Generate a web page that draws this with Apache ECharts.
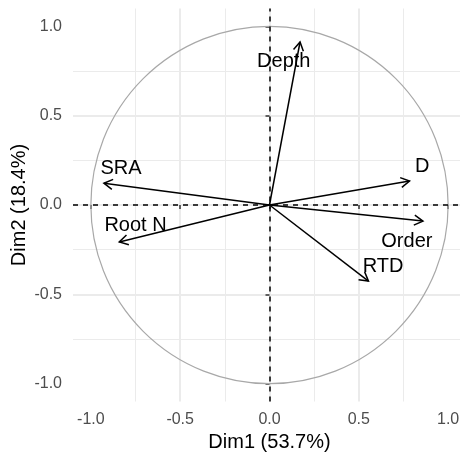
<!DOCTYPE html>
<html>
<head>
<meta charset="utf-8">
<script src="https://cdn.jsdelivr.net/npm/echarts@6/dist/echarts.min.js"></script>
<style>
  html, body { margin: 0; padding: 0; background: #fff; }
  #chart { width: 460px; height: 454px; }
</style>
</head>
<body>
<div id="chart"></div>
<script>
// variable loadings on Dim1 / Dim2 (arrow tips)
const varNames = ['Depth', 'D', 'Order', 'RTD', 'SRA', 'Root N'];
const dim1 = [0.171, 0.784, 0.859, 0.554, -0.927, -0.841];
const dim2 = [0.913, 0.134, -0.090, -0.426, 0.122, -0.207];
// where the (repelled) labels sit, in data units
const labelDim1 = [0.080, 0.855, 0.769, 0.636, -0.831, -0.750];
const labelDim2 = [0.805, 0.215, -0.206, -0.346, 0.206, -0.114];
const tickValues = [-1, -0.5, 0, 0.5, 1];
const circleRadius = 1;

const FONT = 'Liberation Sans, Arial, sans-serif';

const chart = echarts.init(document.getElementById('chart'));

const axisCommon = {
  type: 'value',
  min: -1.1,
  max: 1.1,
  axisLine: { show: false },
  axisTick: {
    show: true,
    length: 4,
    customValues: tickValues,
    lineStyle: { color: '#333333', width: 1.5 }
  },
  axisLabel: {
    customValues: tickValues,
    formatter: v => v.toFixed(1),
    color: '#4d4d4d',
    fontSize: 16,
    fontFamily: FONT
  },
  splitLine: {
    show: true,
    showMinLine: false,
    showMaxLine: false,
    lineStyle: { color: '#ebebeb', width: 2 }
  },
  minorTick: { show: false, splitNumber: 2 },
  minorSplitLine: { show: true, lineStyle: { color: '#ebebeb', width: 1 } },
  nameLocation: 'middle',
  nameTextStyle: { color: '#000', fontSize: 20, fontFamily: FONT }
}

const option = {
  animation: false,
  backgroundColor: '#fff',
  grid: {
    left: 73,
    top: 8.5,
    width: 393,
    height: 393,
    containLabel: false,
    outerBoundsMode: 'none'
  },
  xAxis: Object.assign({}, axisCommon, {
    name: 'Dim1 (53.7%)',
    nameGap: 30,
    axisLabel: Object.assign({}, axisCommon.axisLabel, { margin: 10 })
  }),
  yAxis: Object.assign({}, axisCommon, {
    name: 'Dim2 (18.4%)',
    nameGap: 44,
    nameMoveOverlap: false,
    axisLabel: Object.assign({}, axisCommon.axisLabel, { margin: 11 })
  }),
  series: [
    {
      // correlation circle
      type: 'custom',
      silent: true,
      data: [[0, 0, circleRadius]],
      renderItem: (params, api) => {
        const c = api.coord([api.value(0), api.value(1)]);
        const r = api.size([api.value(2), 0])[0];
        return {
          type: 'circle',
          shape: { cx: c[0], cy: c[1], r: r },
          style: { fill: 'none', stroke: '#a8a8a8', lineWidth: 1.2 }
        };
      },
      markLine: {
        silent: true,
        symbol: 'none',
        label: { show: false },
        lineStyle: { color: '#000', type: [5, 5], width: 1.5 },
        data: [{ xAxis: 0 }, { yAxis: 0 }]
      }
    },
    {
      // arrows
      type: 'custom',
      silent: true,
      data: varNames.map((n, i) => [dim1[i], dim2[i]]),
      renderItem: (params, api) => {
        const o = api.coord([0, 0]);
        const p = api.coord([api.value(0), api.value(1)]);
        const ang = Math.atan2(p[1] - o[1], p[0] - o[0]);
        const L = 10, a = Math.PI / 6;
        const w1 = [p[0] - L * Math.cos(ang - a), p[1] - L * Math.sin(ang - a)];
        const w2 = [p[0] - L * Math.cos(ang + a), p[1] - L * Math.sin(ang + a)];
        return {
          type: 'group',
          children: [
            { type: 'line', shape: { x1: o[0], y1: o[1], x2: p[0], y2: p[1] },
              style: { stroke: '#000', lineWidth: 1.5 } },
            { type: 'polyline', shape: { points: [w1, p, w2] },
              style: { stroke: '#000', lineWidth: 1.5, fill: null } }
          ]
        };
      }
    },
    {
      // variable labels
      type: 'custom',
      silent: true,
      data: varNames.map((n, i) => [labelDim1[i], labelDim2[i], i]),
      renderItem: (params, api) => {
        const p = api.coord([api.value(0), api.value(1)]);
        return {
          type: 'text',
          x: p[0],
          y: p[1],
          style: {
            text: varNames[api.value(2)],
            fill: '#000',
            fontSize: 20,
            fontFamily: FONT,
            align: 'center',
            verticalAlign: 'middle'
          }
        };
      }
    }
  ]
};

chart.setOption(option);
</script>
</body>
</html>
